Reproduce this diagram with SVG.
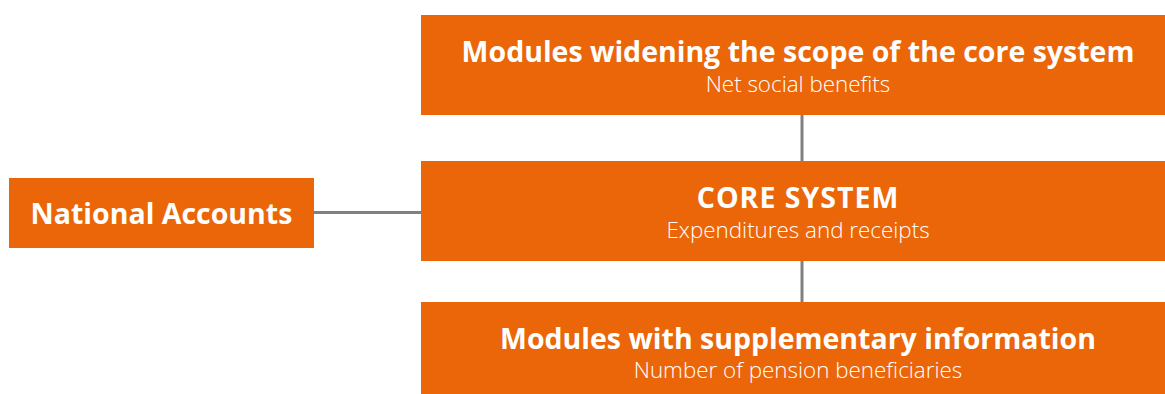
<svg xmlns="http://www.w3.org/2000/svg" width="1165" height="394" viewBox="0 0 1165 394">
  <style>
    .box { fill: #EB6608; }
    .title { font-family: "Open Sans", "Liberation Sans", sans-serif; font-weight: 700; fill: #FFFFFF; text-anchor: middle; font-size: 28.5px; }
    .sub { font-family: "Open Sans", "Liberation Sans", sans-serif; font-weight: 300; fill: #FFFFFF; text-anchor: middle; font-size: 22.4px; }
    .link { stroke: #808080; stroke-width: 3; fill: none; }
  </style>
  <rect width="1165" height="394" fill="#FFFFFF"/>
  <g id="connectors">
    <line class="link" x1="314" y1="212.5" x2="421" y2="212.5"/>
    <line class="link" x1="802" y1="115" x2="802" y2="161"/>
    <line class="link" x1="802" y1="261" x2="802" y2="302"/>
  </g>
  <g id="national-accounts">
    <rect class="box" x="9" y="178" width="305" height="70"/>
    <text class="title" x="161.5" y="224" font-size="28">National Accounts</text>
  </g>
  <g id="modules-widening">
    <rect class="box" x="421" y="15" width="744" height="100"/>
    <text class="title" x="798" y="62">Modules widening the scope of the core system</text>
    <text class="sub" x="798" y="92">Net social benefits</text>
  </g>
  <g id="core-system">
    <rect class="box" x="421" y="161" width="744" height="100"/>
    <text class="title" x="798" y="207.5" letter-spacing="1">CORE SYSTEM</text>
    <text class="sub" x="798" y="238">Expenditures and receipts</text>
  </g>
  <g id="modules-supplementary">
    <rect class="box" x="421" y="302" width="744" height="92"/>
    <text class="title" x="798" y="348.5">Modules with supplementary information</text>
    <text class="sub" x="798" y="378">Number of pension beneficiaries</text>
  </g>
</svg>
